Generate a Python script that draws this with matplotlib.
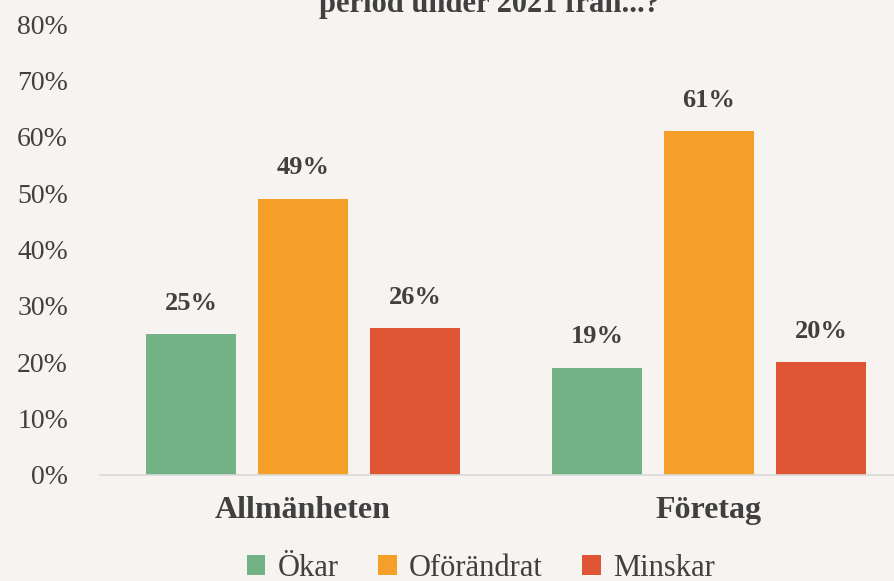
import matplotlib.pyplot as plt
import numpy as np

# data
kategorier = ['Allmänheten', 'Företag']
serier = ['Ökar', 'Oförändrat', 'Minskar']
varden = {
    'Ökar': [25, 19],
    'Oförändrat': [49, 61],
    'Minskar': [26, 20],
}
farger = ['#73B284', '#F59E28', '#E05533']
yticks = [0, 10, 20, 30, 40, 50, 60, 70, 80]

bg = '#F6F3F0'
txt = '#404040'
plt.rcParams['font.family'] = ['Liberation Serif', 'DejaVu Serif']

fig = plt.figure(figsize=(8.94, 5.81), dpi=100, facecolor=bg)
# axes extends past the right edge, as in the reference (cropped)
ax = fig.add_axes([100 / 894, 1 - 475 / 581, 812 / 894, 451 / 581])
ax.set_facecolor(bg)

x = np.arange(len(kategorier))
bredd = 90 / 406
steg = 112 / 406
for i, s in enumerate(serier):
    pos = x + (i - 1) * steg
    bars = ax.bar(pos, varden[s], width=bredd, color=farger[i], label=s)
    for b, v in zip(bars, varden[s]):
        ax.annotate(f'{v}%', (b.get_x() + b.get_width() / 2, v),
                    xytext=(0, 14), textcoords='offset points',
                    ha='center', va='bottom', fontsize=19,
                    fontweight='bold', color=txt)

ax.set_xlim(-0.5, 1.5)
ax.set_ylim(0, 80)
ax.set_yticks(yticks)
ax.set_yticklabels([f'{t}%' for t in yticks], fontsize=20, color=txt)
ax.set_xticks(x)
ax.set_xticklabels(kategorier, fontsize=23, fontweight='bold', color=txt)
ax.tick_params(length=0)
ax.tick_params(axis='y', pad=23)
ax.tick_params(axis='x', pad=15)
for sp in ['top', 'right', 'left']:
    ax.spines[sp].set_visible(False)
ax.spines['bottom'].set_color('#D9D9D9')
ax.spines['bottom'].set_linewidth(1.2)

fig.text(490 / 894, 1 - 12 / 581, 'period under 2021 från...?',
         ha='center', va='baseline', fontsize=22, fontweight='bold', color=txt)

fig.legend(loc='center', bbox_to_anchor=(0.538, 0.022), ncol=3, frameon=False,
           fontsize=22, handlelength=0.6, handleheight=0.6, handletextpad=0.4,
           columnspacing=1.3, labelcolor=txt)

fig.savefig('out.png', dpi=100, facecolor=bg)
